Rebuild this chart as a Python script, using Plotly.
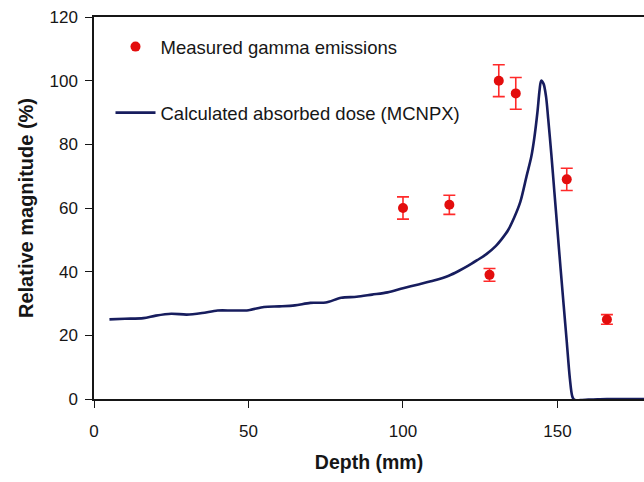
import plotly.graph_objects as go

# Measured prompt-gamma emissions (depth in mm, relative magnitude in %)
meas_depth = [100, 115, 128, 131, 136.5, 153, 166]
meas_value = [60, 61, 39, 100, 96, 69, 25]
meas_err = [3.5, 3, 2, 5, 5, 3.5, 1.5]

# Calculated absorbed dose profile from MCNPX
calc_depth = [5, 10, 16, 20, 25, 30, 35, 40, 45, 50, 55, 60, 65, 70, 75, 80, 85,
              90, 95, 100, 105, 110, 115, 118, 121, 124, 127, 130, 132, 134, 136,
              138, 140, 141.5, 142.5, 143.5, 144.2, 144.7, 145.5, 146.3, 147, 148,
              149, 150, 151, 152, 153, 154, 154.8, 155.5, 156.5, 158, 160, 163,
              166, 170, 180]
calc_dose = [25, 25.2, 25.4, 26.2, 26.8, 26.5, 27, 27.8, 27.8, 27.9, 28.9, 29.1,
             29.4, 30.2, 30.3, 31.8, 32.1, 32.8, 33.5, 34.8, 36, 37.2, 38.8, 40.2,
             41.8, 43.6, 45.5, 48, 50.3, 53, 57, 62, 70, 76, 82, 90, 97, 100, 99,
             95, 88, 77, 65, 53, 41, 29.5, 18, 6.5, 0.8, -0.3, -0.4, -0.3, -0.2,
             -0.1, 0, 0, 0]

x_ticks = [0, 50, 100, 150]
y_ticks = [0, 20, 40, 60, 80, 100, 120]

red = "#e30d0d"
navy = "#171d5e"
ink = "#161616"
family = "Liberation Sans, Arial, sans-serif"

fig = go.Figure()

fig.add_trace(go.Scatter(
    x=meas_depth, y=meas_value,
    mode="markers",
    name="Measured gamma emissions",
    legendgroup="meas",
    marker=dict(color=red, size=10),
    error_y=dict(type="data", array=meas_err, color="#ff2a2a",
                 thickness=1.6, width=6),
))

fig.add_trace(go.Scatter(
    x=calc_depth, y=calc_dose,
    mode="lines",
    name="Calculated absorbed dose (MCNPX)",
    legendgroup="calc",
    line=dict(color=navy, width=2.6, shape="spline", smoothing=0.8),
))

tick_font = dict(family=family, size=17, color=ink)

fig.update_layout(
    width=644, height=482,
    margin=dict(l=94, r=0, t=17, b=83),
    paper_bgcolor="white",
    plot_bgcolor="white",
    showlegend=True,
    legend=dict(
        x=0.03, y=0.971, xanchor="left", yanchor="top",
        bgcolor="rgba(0,0,0,0)",
        font=dict(family=family, size=18.5, color=ink),
        tracegroupgap=39,
        itemwidth=40,
    ),
    xaxis=dict(
        range=[0, 178],
        tickvals=x_ticks,
        ticks="outside", ticklen=7, tickwidth=1.3, tickcolor=ink,
        showline=True, linecolor=ink, linewidth=1.5, mirror=True,
        showgrid=False, zeroline=False,
        tickfont=tick_font,
        ticklabelstandoff=9,
        title=dict(text="<b>Depth (mm)</b>",
                   font=dict(family=family, size=19.5, color=ink), standoff=15),
    ),
    yaxis=dict(
        range=[0, 120],
        tickvals=y_ticks,
        ticks="outside", ticklen=7, tickwidth=1.3, tickcolor=ink,
        showline=True, linecolor=ink, linewidth=1.5,
        showgrid=False, zeroline=False,
        tickfont=tick_font,
        ticklabelstandoff=4,
        title=dict(text="<b>Relative magnitude (%)</b>",
                   font=dict(family=family, size=20, color=ink), standoff=10),
    ),
)

fig.write_html("out.html")
